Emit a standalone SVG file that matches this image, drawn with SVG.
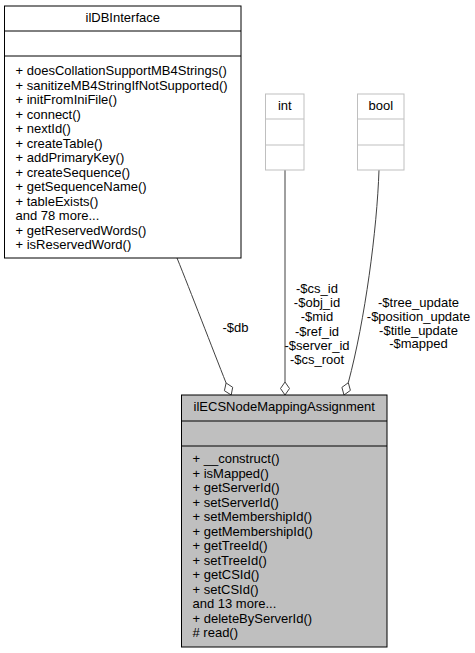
<svg xmlns="http://www.w3.org/2000/svg" width="475" height="653" viewBox="0 0 475 653">
<style>
text{font-family:"Liberation Sans",Arial,Helvetica,sans-serif;font-size:13px;fill:#000}
.c{text-anchor:middle}
.box{fill:#fff;stroke:#000;stroke-width:1}
.ext{fill:#fff;stroke:#bfbfbf;stroke-width:1}
.main{fill:#bfbfbf;stroke:#000;stroke-width:1}
.sep{stroke:#000;stroke-width:1}
.sepg{stroke:#bfbfbf;stroke-width:1}
.edge{fill:none;stroke:#404040;stroke-width:1}
.dia{fill:#fff;stroke:#404040;stroke-width:1}
</style>
<rect width="475" height="653" fill="#fff"/>
<g id="connectors">
<path class="edge" d="M177,258 C190,290 213,350 226.1,383"/>
<polygon class="dia" points="231.2,395 232.7,387.3 226.1,383 224.4,390.7"/>
<text class="c" x="235.5" y="331.5">-$db</text>
<path class="edge" d="M285,170 L285,382"/>
<polygon class="dia" points="285,395 289.5,388.5 285,382 280.5,388.5"/>
<text class="c" x="317" y="293">-$cs_id</text>
<text class="c" x="317" y="307.2">-$obj_id</text>
<text class="c" x="317" y="321.4">-$mid</text>
<text class="c" x="317" y="335.6">-$ref_id</text>
<text class="c" x="317" y="349.8">-$server_id</text>
<text class="c" x="317" y="364">-$cs_root</text>
<path class="edge" d="M379,170 C377,230 365,320 348.3,382.7"/>
<polygon class="dia" points="344,395 350.4,390.4 348.3,382.7 341.9,387.4"/>
<text class="c" x="418.5" y="306.7">-$tree_update</text>
<text class="c" x="418.5" y="320.6">-$position_update</text>
<text class="c" x="418.5" y="334.5">-$title_update</text>
<text class="c" x="418.5" y="348.4">-$mapped</text>
</g>
<g id="ilDBInterface">
<rect class="box" x="4.5" y="6" width="236.5" height="252"/>
<line class="sep" x1="4.5" y1="31" x2="241" y2="31"/>
<line class="sep" x1="4.5" y1="56" x2="241" y2="56"/>
<text class="c" x="122.75" y="22">ilDBInterface</text>
<text x="15.5" y="75">+ doesCollationSupportMB4Strings()</text>
<text x="15.5" y="89.5">+ sanitizeMB4StringIfNotSupported()</text>
<text x="15.5" y="104">+ initFromIniFile()</text>
<text x="15.5" y="118.5">+ connect()</text>
<text x="15.5" y="133">+ nextId()</text>
<text x="15.5" y="147.5">+ createTable()</text>
<text x="15.5" y="162">+ addPrimaryKey()</text>
<text x="15.5" y="176.5">+ createSequence()</text>
<text x="15.5" y="191">+ getSequenceName()</text>
<text x="15.5" y="205.5">+ tableExists()</text>
<text x="15.5" y="220">and 78 more...</text>
<text x="15.5" y="234.5">+ getReservedWords()</text>
<text x="15.5" y="249">+ isReservedWord()</text>
</g>
<g id="int">
<rect class="ext" x="265.5" y="94" width="38.5" height="76"/>
<line class="sepg" x1="265.5" y1="119" x2="304" y2="119"/>
<line class="sepg" x1="265.5" y1="145" x2="304" y2="145"/>
<text class="c" x="284.75" y="110">int</text>
</g>
<g id="bool">
<rect class="ext" x="357.5" y="94" width="46.5" height="76"/>
<line class="sepg" x1="357.5" y1="119" x2="404" y2="119"/>
<line class="sepg" x1="357.5" y1="145" x2="404" y2="145"/>
<text class="c" x="380.75" y="110">bool</text>
</g>
<g id="ilECSNodeMappingAssignment">
<rect class="main" x="181.5" y="395" width="205.5" height="252"/>
<line class="sep" x1="181.5" y1="421" x2="387" y2="421"/>
<line class="sep" x1="181.5" y1="446" x2="387" y2="446"/>
<text class="c" x="284.25" y="410.5">ilECSNodeMappingAssignment</text>
<text x="192.5" y="463">+ __construct()</text>
<text x="192.5" y="477.5">+ isMapped()</text>
<text x="192.5" y="492">+ getServerId()</text>
<text x="192.5" y="506.5">+ setServerId()</text>
<text x="192.5" y="521">+ setMembershipId()</text>
<text x="192.5" y="535.5">+ getMembershipId()</text>
<text x="192.5" y="550">+ getTreeId()</text>
<text x="192.5" y="564.5">+ setTreeId()</text>
<text x="192.5" y="579">+ getCSId()</text>
<text x="192.5" y="593.5">+ setCSId()</text>
<text x="192.5" y="608">and 13 more...</text>
<text x="192.5" y="622.5">+ deleteByServerId()</text>
<text x="192.5" y="637"># read()</text>
</g>
</svg>
